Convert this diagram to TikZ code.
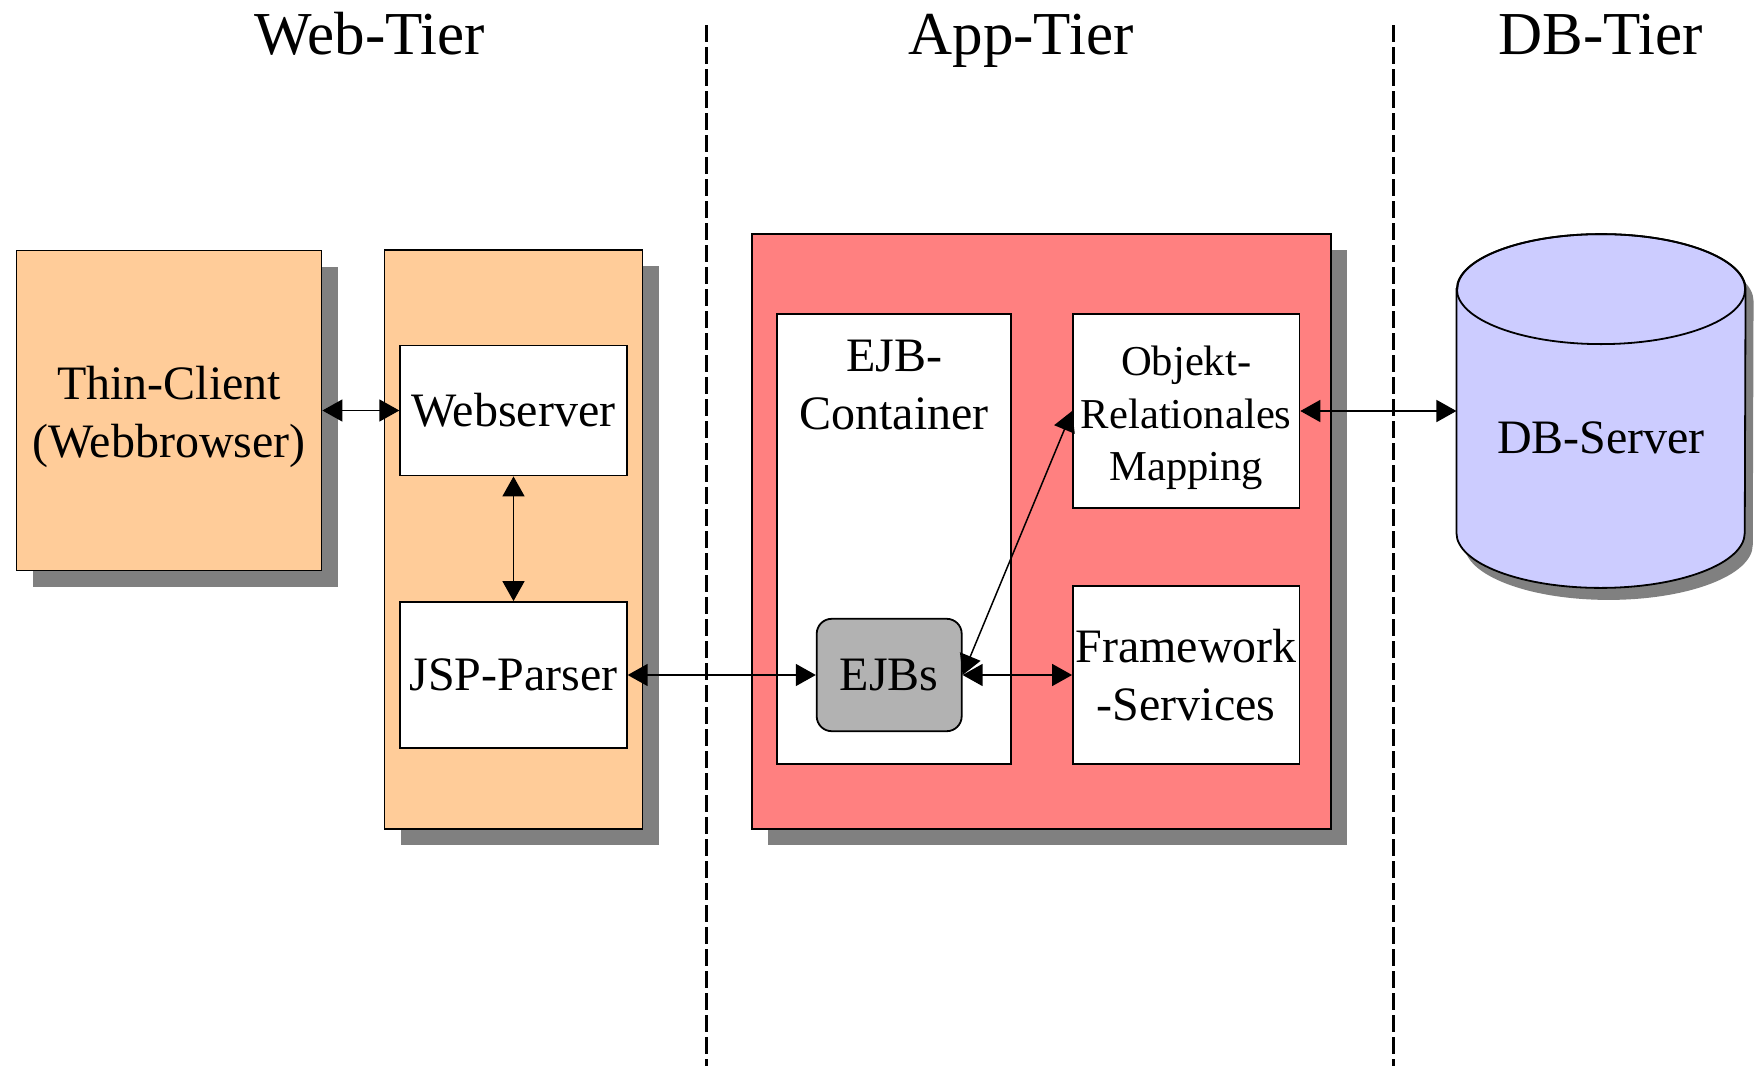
\documentclass[tikz,border=0pt]{standalone}
\usepackage{fontspec}
\setmainfont{Liberation Serif}
\usetikzlibrary{arrows.meta, positioning, shadows, calc}
\definecolor{webColor}{HTML}{FFCC99}
\definecolor{appColor}{HTML}{FF8080}
\definecolor{dbColor}{HTML}{CCCCFF}
\definecolor{ejbColor}{HTML}{B2B2B2}
\definecolor{shadowColor}{HTML}{808080}
\tikzstyle{arrow} = [line width=0.75pt, {Triangle[length=10pt,width=11pt]}-{Triangle[length=10pt,width=11pt]}]
\tikzstyle{shade} = [drop shadow={shadow xshift=8pt, shadow yshift=-8pt, fill=shadowColor, opacity=1}]

\begin{document}
\begin{tikzpicture}[
    x=0.5pt, y=-0.5pt,
    tier/.style={font=\fontsize{30.5}{34}\selectfont, anchor=base, inner sep=0pt},
    outer/.style={draw=black, line width=0.9pt, shade, inner sep=0pt},
    inner/.style={draw=black, line width=0.9pt, fill=white, align=center, inner sep=0pt, font=\fontsize{24}{29}\selectfont},
    boxtext/.style={align=center, inner sep=0pt, font=\fontsize{24}{29}\selectfont},
    sep/.style={dash pattern=on 8.5pt off 2.5pt, line width=1.1pt}
]
\useasboundingbox (0,0) rectangle (1758,1066);

% Tiers
\node[tier] (webtitle) at (370,54) {Web-Tier};
\node[tier] (apptitle) at (1021,54) {App-Tier};
\node[tier] (dbtitle) at (1601,54) {DB-Tier};
\draw[sep] (706.5,25) -- (706.5,1066);
\draw[sep] (1393.5,25) -- (1393.5,1066);

% Web-Tier
\node[outer, fill=webColor, minimum width=152.5pt, minimum height=160pt] (thin) at (169,410.5) {};
\node[boxtext] (thintext) at ([yshift=-3pt]thin.center) {Thin-Client\\(Webbrowser)};
\node[outer, fill=webColor, minimum width=129pt, minimum height=289.3pt] (web) at (513.5,539.3) {};
\node[inner, minimum width=113.25pt, minimum height=65pt] (websrv) at (513.5,410.5) {Webserver};
\node[inner, minimum width=113.25pt, minimum height=73pt] (jsp) at (513.5,675) {JSP-Parser};

% App-Tier
\node[outer, fill=appColor, minimum width=289.3pt, minimum height=297.2pt] (app) at (1041.6,531.5) {};
\node[inner, minimum width=117pt, minimum height=225pt] (ejbc) at (894,539) {};
\node[boxtext, anchor=north] (ejbctext) at (894,340) {EJB-\\Container};
\node[inner, fill=ejbColor, rounded corners=7.5pt, minimum width=72.5pt, minimum height=56.2pt] (ejbs) at (889.2,675) {EJBs};
\node[inner, minimum width=113.2pt, minimum height=97pt] (orm) at (1186.2,411) {};
\node[boxtext, font=\fontsize{21.3}{26.4}\selectfont] (ormtext) at ([yshift=-3.5pt]orm.center) {Objekt-\\Relationales\\Mapping};
\node[inner, minimum width=113.2pt, minimum height=89.2pt] (fw) at (1186.2,675) {Framework\\-Services};

% DB-Tier
\node[minimum width=144.15pt, minimum height=176.5pt, inner sep=0pt] (db) at (1601,411) {};
\filldraw[fill=dbColor, line width=0.9pt, drop shadow={shadow xshift=4pt, shadow yshift=-6pt, fill=shadowColor, opacity=1}]
  ($(db.north west)+(0,55)$) -- ($(db.south west)+(0,-55)$)
  arc[start angle=180, end angle=0, x radius=144.15, y radius=55]
  -- ($(db.north east)+(0,55)$)
  arc[start angle=0, end angle=-180, x radius=144.15, y radius=55] -- cycle;
\draw[line width=0.9pt] ($(db.north)+(0,55)$) ellipse[x radius=144.15, y radius=55];
\node[font=\fontsize{24}{26}\selectfont, anchor=base, inner sep=0pt] (dbtext) at (1601,453) {DB-Server};

% Draw lines
\draw[arrow] (thin.east) -- (websrv.west);
\draw[arrow] (websrv.south) -- (jsp.north);
\draw[arrow] (jsp.east) -- (ejbs.west);
\draw[arrow] (ejbs.east) -- (fw.west);
\draw[arrow] (ejbs.east) -- (orm.west);
\draw[arrow] (orm.east) -- (db.west);
\end{tikzpicture}
\end{document}
